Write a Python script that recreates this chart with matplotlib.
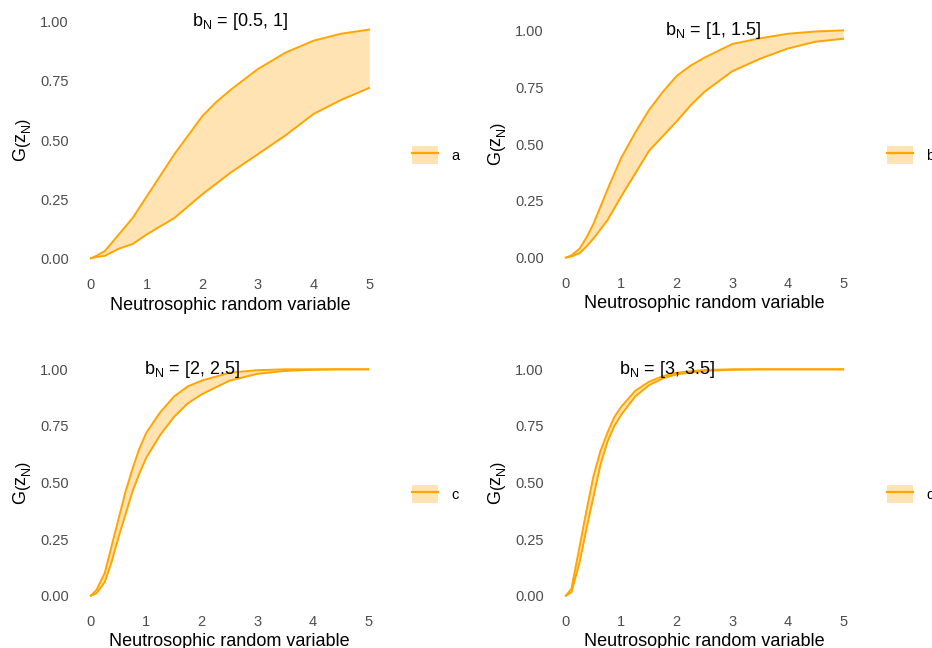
import matplotlib
matplotlib.use("Agg")
import matplotlib.pyplot as plt
from matplotlib.patches import Patch
from matplotlib.lines import Line2D

plt.rcParams['font.family'] = ['Liberation Sans', 'DejaVu Sans']
plt.rcParams['mathtext.fontset'] = 'custom'
plt.rcParams['mathtext.rm'] = 'Liberation Sans'
plt.rcParams['mathtext.it'] = 'Liberation Sans'

# values
x_a = [0, 0.1, 0.25, 0.5, 0.75, 1, 1.25, 1.5, 1.75, 2, 2.25, 2.5, 3, 3.5, 4, 4.5, 5]
up_a = [0.0, 0.01, 0.03, 0.10, 0.17, 0.26, 0.35, 0.44, 0.52, 0.60, 0.66, 0.71, 0.80, 0.87, 0.92, 0.95, 0.967]
lo_a = [0.0, 0.005, 0.01, 0.04, 0.06, 0.10, 0.135, 0.17, 0.22, 0.27, 0.315, 0.36, 0.44, 0.52, 0.61, 0.67, 0.72]

x_b = [0, 0.1, 0.25, 0.375, 0.5, 0.75, 1, 1.25, 1.5, 1.75, 2, 2.25, 2.5, 3, 3.5, 4, 4.5, 5]
up_b = [0.0, 0.01, 0.04, 0.09, 0.15, 0.30, 0.44, 0.55, 0.65, 0.73, 0.80, 0.845, 0.88, 0.94, 0.965, 0.985, 0.995, 1.0]
lo_b = [0.0, 0.005, 0.02, 0.05, 0.085, 0.165, 0.27, 0.37, 0.47, 0.535, 0.60, 0.67, 0.73, 0.82, 0.875, 0.92, 0.95, 0.963]

x_c = [0, 0.1, 0.25, 0.375, 0.5, 0.625, 0.75, 0.875, 1, 1.25, 1.5, 1.75, 2, 2.5, 3, 3.5, 4, 4.5, 5]
up_c = [0.0, 0.025, 0.10, 0.22, 0.34, 0.46, 0.56, 0.65, 0.72, 0.81, 0.88, 0.925, 0.95, 0.985, 0.996, 1.0, 1.0, 1.0, 1.0]
lo_c = [0.0, 0.01, 0.06, 0.15, 0.26, 0.36, 0.46, 0.54, 0.61, 0.71, 0.79, 0.85, 0.89, 0.95, 0.98, 0.993, 0.998, 1.0, 1.0]

x_d = [0, 0.1, 0.25, 0.375, 0.5, 0.625, 0.75, 0.875, 1, 1.25, 1.5, 1.75, 2, 2.5, 3, 3.5, 4, 4.5, 5]
up_d = [0.0, 0.03, 0.22, 0.38, 0.53, 0.64, 0.72, 0.79, 0.835, 0.905, 0.945, 0.97, 0.985, 0.997, 1.0, 1.0, 1.0, 1.0, 1.0]
lo_d = [0.0, 0.015, 0.15, 0.30, 0.44, 0.58, 0.68, 0.75, 0.80, 0.88, 0.93, 0.96, 0.978, 0.993, 0.998, 1.0, 1.0, 1.0, 1.0]

titles = [r'b$_N$ = [0.5, 1]', r'b$_N$ = [1, 1.5]', r'b$_N$ = [2, 2.5]', r'b$_N$ = [3, 3.5]']
title_x = [2.68, 2.65, 1.82, 1.82]
keys = ['a', 'b', 'c', 'd']

panels = [(x_a, lo_a, up_a), (x_b, lo_b, up_b), (x_c, lo_c, up_c), (x_d, lo_d, up_d)]

W, H = 932, 648
# axes boxes in pixels: left, right, top, bottom
boxes = [(77, 383, 10, 270), (552, 857, 19, 269), (77, 382, 358, 607), (552, 857, 358, 607)]
# legend key left edge / vertical centre in pixels
leg_pos = [(412, 155), (887, 155), (412, 494), (887, 494)]

orange = '#FFA500'
fig = plt.figure(figsize=(W / 100, H / 100), dpi=100)

for i, (xs, lo, up) in enumerate(panels):
    l, r, t, b = boxes[i]
    ax = fig.add_axes([l / W, 1 - b / H, (r - l) / W, (b - t) / H])
    ax.fill_between(xs, lo, up, color=orange, alpha=0.3, lw=0)
    ax.plot(xs, lo, color=orange, lw=1.4)
    ax.plot(xs, up, color=orange, lw=1.4)
    ax.set_xlim(-0.25, 5.25)
    ax.set_ylim(-0.05, 1.05)
    ax.set_xticks(range(6))
    ax.set_yticks([0, 0.25, 0.5, 0.75, 1.0])
    ax.set_yticklabels(['0.00', '0.25', '0.50', '0.75', '1.00'])
    ax.tick_params(length=0, labelsize=10.5, labelcolor='#4D4D4D', pad=6)
    for s in ax.spines.values():
        s.set_visible(False)
    ax.set_xlabel('Neutrosophic random variable', fontsize=13, labelpad=3)
    ax.set_ylabel(r'G$\left(z_N^{\ }\right)$', fontsize=13, labelpad=5)
    ax.text(title_x[i], 1.0, titles[i], fontsize=13, ha='center', va='center')

    handle = (Patch(facecolor=orange, alpha=0.3, edgecolor='none'),
              Line2D([], [], color=orange, lw=1.6))
    lx, ly = leg_pos[i]
    fig.legend([handle], [keys[i]], loc='center left',
               bbox_to_anchor=(lx / W, 1 - ly / H), frameon=False,
               fontsize=10.5, handlelength=1.8, handleheight=1.6,
               borderpad=0, borderaxespad=0, handletextpad=0.9)

fig.savefig('out.png', dpi=100)
